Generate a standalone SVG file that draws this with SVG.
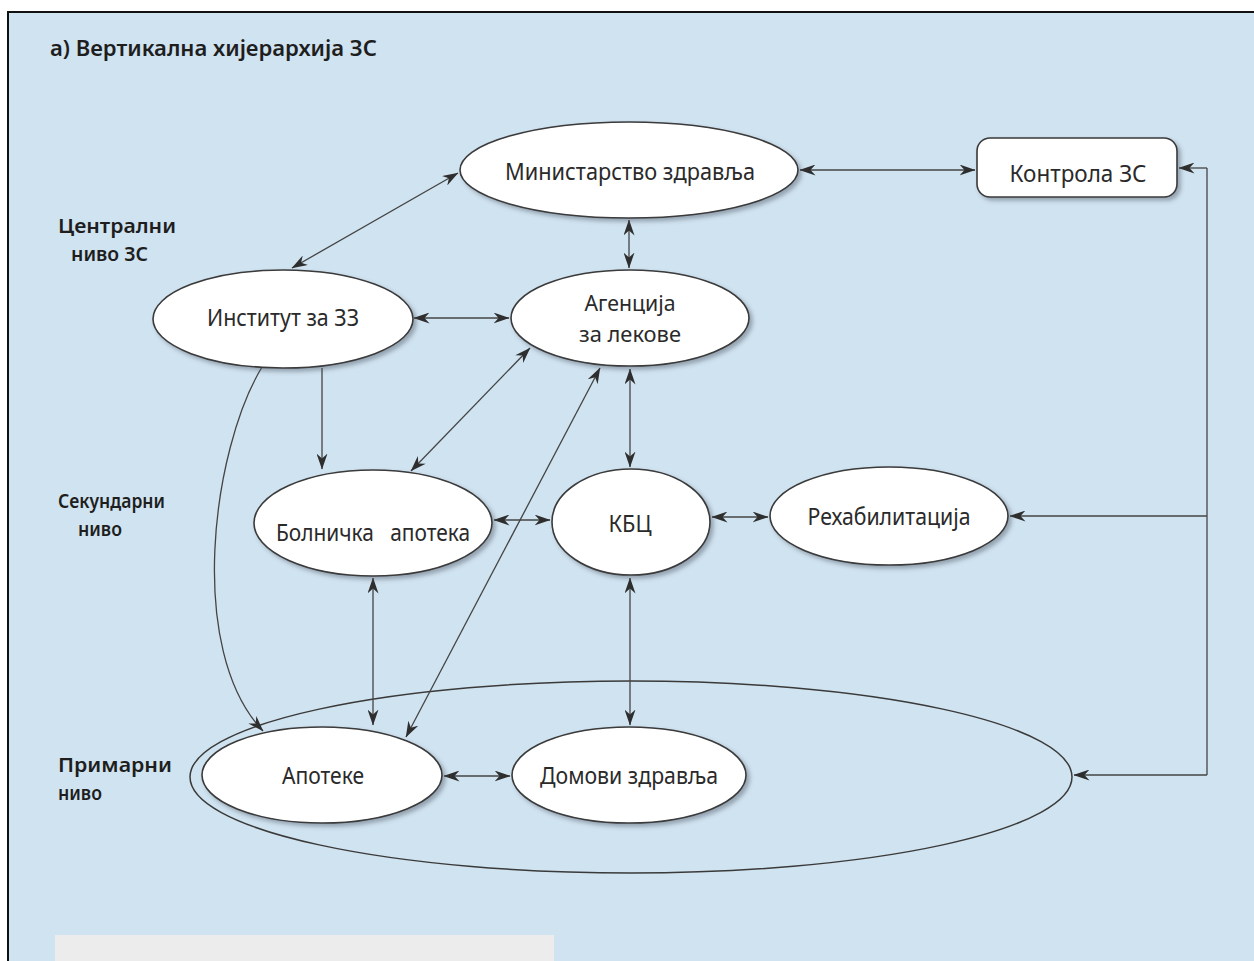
<svg xmlns="http://www.w3.org/2000/svg" width="1254" height="961" viewBox="0 0 1254 961">
<defs>
<style>
.bg{fill:#d0e3f0}
.frame{stroke:#111;stroke-width:2;fill:none}
.node{fill:#ffffff;stroke:#3a3a3a;stroke-width:1.6;filter:url(#sh)}
.grp{fill:none;stroke:#3a3a3a;stroke-width:1.5}
.lbl{font-family:"Noto Sans","Open Sans","Liberation Sans",sans-serif;font-size:23px;fill:#2a2a2a;text-anchor:middle}
.sm{font-size:22px}
.side{font-family:"Noto Sans","Open Sans","Liberation Sans",sans-serif;font-size:20px;font-weight:600;fill:#1e1e1e}
.title{font-family:"Noto Sans","Open Sans","Liberation Sans",sans-serif;font-size:22px;font-weight:600;fill:#1e1e1e}
.c{fill:none;stroke:#444;stroke-width:1.3}
.b{marker-start:url(#ah);marker-end:url(#ah)}
.e{marker-end:url(#ah)}
</style>
<marker id="ah" viewBox="0 0 16 11" refX="15.5" refY="5.5" markerWidth="16" markerHeight="11" orient="auto-start-reverse" markerUnits="userSpaceOnUse">
<path d="M0,0 L16,5.5 L0,11 L5,5.5 z" fill="#2e2e2e"/>
</marker>
<filter id="sh" x="-10%" y="-20%" width="125%" height="150%">
<feDropShadow dx="3" dy="3" stdDeviation="2" flood-color="#4a5560" flood-opacity="0.45"/>
</filter>
</defs>

<rect x="0" y="0" width="1254" height="961" fill="#ffffff"/>
<rect class="bg" x="8" y="12" width="1246" height="949"/>
<path class="frame" d="M8,961 L8,12 L1254,12"/>
<rect x="55" y="935" width="499" height="26" fill="#ececec"/>

<text class="title" x="50" y="56" textLength="327" lengthAdjust="spacingAndGlyphs">а) Вертикална хијерархија ЗС</text>

<g id="levels">
<text class="side" x="58" y="233" textLength="118" lengthAdjust="spacingAndGlyphs">Централни</text>
<text class="side" x="71" y="261" textLength="77" lengthAdjust="spacingAndGlyphs">ниво ЗС</text>
<text class="side" x="58" y="508" textLength="107" lengthAdjust="spacingAndGlyphs">Секундарни</text>
<text class="side" x="78" y="536" textLength="44" lengthAdjust="spacingAndGlyphs">ниво</text>
<text class="side" x="58" y="772" textLength="114" lengthAdjust="spacingAndGlyphs">Примарни</text>
<text class="side" x="58" y="800" textLength="44" lengthAdjust="spacingAndGlyphs">ниво</text>
</g>

<g id="primary-group">
<ellipse class="grp" cx="631" cy="777" rx="441" ry="96"/>
</g>

<g id="connectors">
<line class="c b" x1="800" y1="170" x2="975" y2="170"/>
<path class="c" d="M1207,168 L1207,775"/>
<line class="c e" x1="1207" y1="168" x2="1179" y2="168"/>
<line class="c e" x1="1207" y1="516" x2="1010" y2="516"/>
<line class="c e" x1="1207" y1="775" x2="1074" y2="775"/>
<line class="c b" x1="458" y1="173" x2="292" y2="268"/>
<line class="c b" x1="629" y1="220" x2="629" y2="268"/>
<line class="c b" x1="414" y1="318" x2="509" y2="318"/>
<line class="c e" x1="322" y1="368" x2="322" y2="469"/>
<path class="c e" d="M262,367 C212,450 186,650 263,731"/>
<line class="c b" x1="530" y1="348" x2="411" y2="471"/>
<line class="c b" x1="600" y1="368" x2="406" y2="737"/>
<line class="c b" x1="630" y1="369" x2="630" y2="467"/>
<line class="c b" x1="494" y1="520" x2="550" y2="520"/>
<line class="c b" x1="712" y1="517" x2="768" y2="517"/>
<line class="c b" x1="373" y1="578" x2="373" y2="725"/>
<line class="c b" x1="630" y1="578" x2="630" y2="725"/>
<line class="c b" x1="444" y1="776" x2="510" y2="776"/>
</g>

<g id="ministry">
<ellipse class="node" cx="629" cy="170" rx="169" ry="48"/>
<text class="lbl" x="630" y="180" textLength="250" lengthAdjust="spacingAndGlyphs">Министарство здравља</text>
</g>
<g id="control">
<rect class="node" x="977" y="138" width="200" height="59" rx="13" ry="13"/>
<text class="lbl" x="1078" y="182" textLength="137" lengthAdjust="spacingAndGlyphs">Контрола ЗС</text>
</g>
<g id="institute">
<ellipse class="node" cx="283" cy="319" rx="130" ry="49"/>
<text class="lbl" x="283" y="326" textLength="152" lengthAdjust="spacingAndGlyphs">Институт за ЗЗ</text>
</g>
<g id="agency">
<ellipse class="node" cx="630" cy="318" rx="119" ry="48"/>
<text class="lbl sm" x="630" y="311" textLength="91" lengthAdjust="spacingAndGlyphs">Агенција</text>
<text class="lbl sm" x="630" y="342" textLength="102" lengthAdjust="spacingAndGlyphs">за лекове</text>
</g>
<g id="hospital-pharmacy">
<ellipse class="node" cx="373" cy="523" rx="119" ry="53"/>
<text class="lbl" x="373" y="541" textLength="194" lengthAdjust="spacingAndGlyphs" xml:space="preserve">Болничка   апотека</text>
</g>
<g id="kbc">
<ellipse class="node" cx="631" cy="522" rx="79" ry="53"/>
<text class="lbl" x="630" y="532" textLength="43" lengthAdjust="spacingAndGlyphs">КБЦ</text>
</g>
<g id="rehab">
<ellipse class="node" cx="889" cy="516" rx="119" ry="49"/>
<text class="lbl" x="889" y="525" textLength="163" lengthAdjust="spacingAndGlyphs">Рехабилитација</text>
</g>
<g id="pharmacies">
<ellipse class="node" cx="322" cy="775" rx="120" ry="48"/>
<text class="lbl" x="323" y="784" textLength="82" lengthAdjust="spacingAndGlyphs">Апотеке</text>
</g>
<g id="health-centers">
<ellipse class="node" cx="629" cy="775" rx="117" ry="48"/>
<text class="lbl" x="629" y="784" textLength="178" lengthAdjust="spacingAndGlyphs">Домови здравља</text>
</g>
</svg>
